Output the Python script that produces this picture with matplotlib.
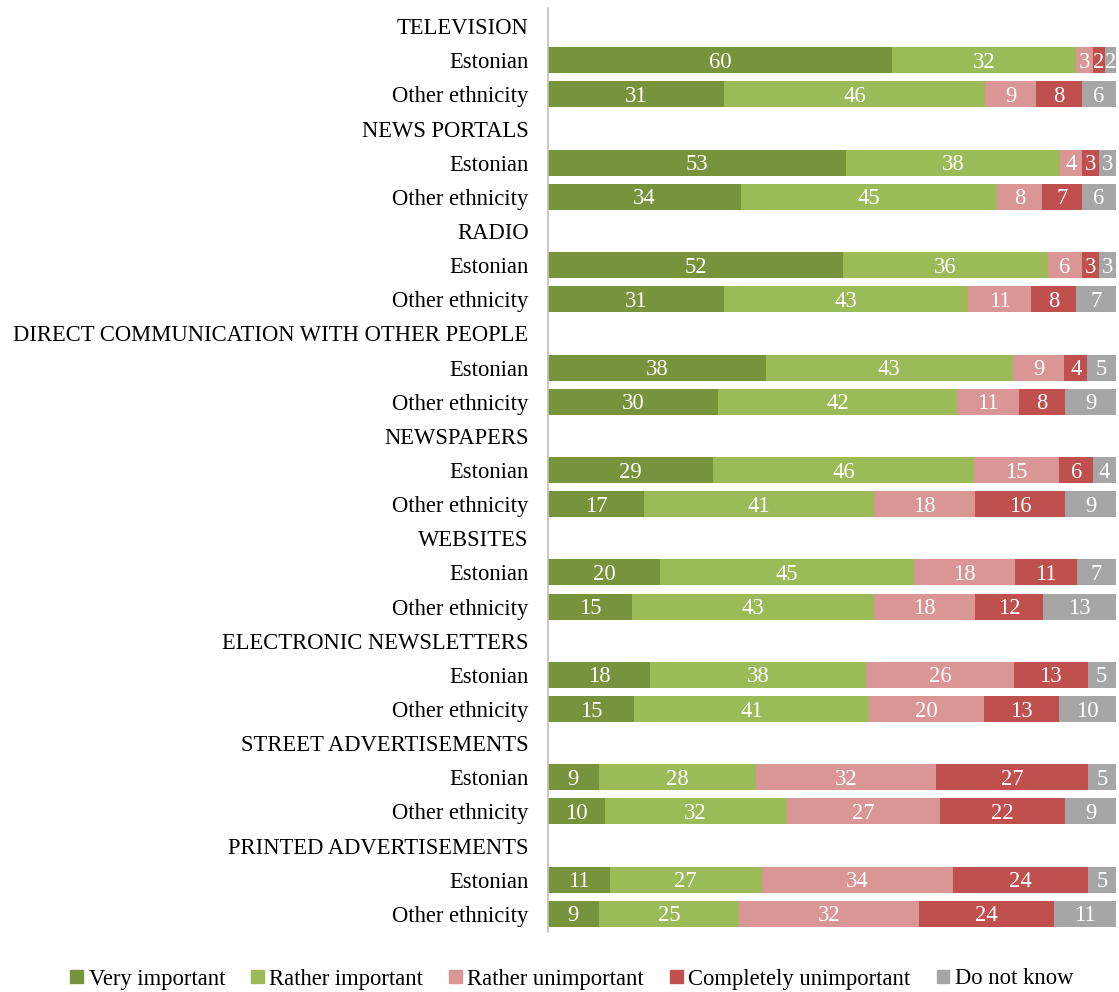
import numpy as np
import matplotlib.pyplot as plt
from matplotlib.patches import Patch

plt.rcParams['font.family'] = ['Liberation Serif', 'DejaVu Serif']

categories = ["TELEVISION", "NEWS PORTALS", "RADIO",
              "DIRECT COMMUNICATION WITH OTHER PEOPLE", "NEWSPAPERS",
              "WEBSITES", "ELECTRONIC NEWSLETTERS",
              "STREET ADVERTISEMENTS", "PRINTED ADVERTISEMENTS"]
groups = ["Estonian", "Other ethnicity"]
series = ["Very important", "Rather important", "Rather unimportant",
          "Completely unimportant", "Do not know"]
colors = ["#77933C", "#9BBB59", "#D99694", "#C0504D", "#A6A6A6"]

# rows: Estonian, Other ethnicity for each category
very_important = [60, 31, 53, 34, 52, 31, 38, 30, 29, 17, 20, 15, 18, 15, 9, 10, 11, 9]
rather_important = [32, 46, 38, 45, 36, 43, 43, 42, 46, 41, 45, 43, 38, 41, 28, 32, 27, 25]
rather_unimportant = [3, 9, 4, 8, 6, 11, 9, 11, 15, 18, 18, 18, 26, 20, 32, 27, 34, 32]
completely_unimportant = [2, 8, 3, 7, 3, 8, 4, 8, 6, 16, 11, 12, 13, 13, 27, 22, 24, 24]
do_not_know = [2, 6, 3, 6, 3, 7, 5, 9, 4, 9, 7, 13, 5, 10, 5, 9, 5, 11]

data = np.array([very_important, rather_important, rather_unimportant,
                 completely_unimportant, do_not_know], dtype=float)
data_pct = data / data.sum(axis=0) * 100

labels = []
bar_pos = []
pos = 0
for i, cat in enumerate(categories):
    labels.append(cat)
    pos += 1
    for g in groups:
        labels.append(g)
        bar_pos.append(pos)
        pos += 1
bar_pos = np.array(bar_pos)

fig = plt.figure(figsize=(11.19, 9.92), dpi=100)
ax = fig.add_axes([548 / 1119, 1 - 932 / 992, 568 / 1119, 924 / 992])

left = np.zeros(len(bar_pos))
for k in range(5):
    ax.barh(bar_pos, data_pct[k], left=left, height=0.76, color=colors[k])
    for j in range(len(bar_pos)):
        ax.text(left[j] + data_pct[k][j] / 2, bar_pos[j] + 0.06, f"{int(data[k][j])}",
                ha='center', va='center', color='white', fontsize=16.3)
    left += data_pct[k]

ax.set_yticks(range(len(labels)))
ax.set_yticklabels(labels, fontsize=16.3)
ax.set_ylim(len(labels) - 0.47, -0.53)
ax.set_xlim(0, 100)
ax.tick_params(axis='y', length=0, pad=14)
ax.set_xticks([])
for s in ['top', 'right', 'bottom']:
    ax.spines[s].set_visible(False)
ax.spines['left'].set_color('#BFBFBF')
ax.spines['left'].set_linewidth(1.2)

handles = [Patch(color=c, label=s) for c, s in zip(colors, series)]
fig.legend(handles=handles, loc='center', bbox_to_anchor=(0.511, 1 - 979 / 992),
           ncol=5, frameon=False, fontsize=16.3, handlelength=0.55, handleheight=0.55,
           handletextpad=0.25, columnspacing=1.15)

fig.savefig("out.png", dpi=100)
